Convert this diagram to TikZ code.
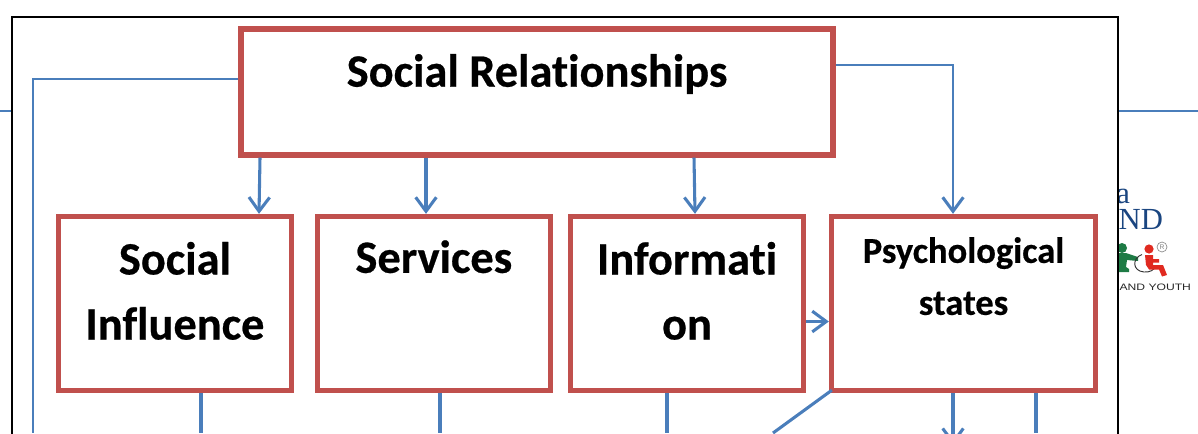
\documentclass[tikz,border=0pt]{standalone}
\usepackage{fontspec}
\setmainfont[Ligatures=NoCommon,BoldFeatures={FakeBold=0.5}]{Carlito}
\newfontfamily\logoserif{Liberation Serif}
\newfontfamily\logosans{Liberation Sans}
\usetikzlibrary{arrows.meta}
\definecolor{boxred}{HTML}{C0504D}
\definecolor{linkblue}{HTML}{4A7EBB}
\definecolor{logoblue}{HTML}{1A4580}
\definecolor{logogreen}{HTML}{1E7B45}
\definecolor{logored}{HTML}{E02A20}
\newcommand{\oneline}[2]{\raisebox{#1}[0pt][0pt]{#2}}
\newcommand{\twolines}[4]{\raisebox{#1}[0pt][0pt]{\vbox{\baselineskip=#2\lineskiplimit=-100pt\hbox to 0pt{\hss #3\hss}\hbox to 0pt{\hss #4\hss}}}}
\tikzset{
  redbox/.style={draw=boxred,line width=4pt,fill=white,rectangle,inner sep=0pt,outer sep=2pt,anchor=center,font=\bfseries\fontsize{34.8pt}{35pt}\selectfont,text=black},
  link/.style={draw=linkblue,line width=2.3pt},
  thin link/.style={draw=linkblue,line width=1.8pt},
  arrowed/.style={-{Straight Barb[length=10.5pt,width=15.5pt,line width=2.3pt]}},
  rule line/.style={draw=linkblue,line width=1.2pt},
  logotext/.style={inner sep=0pt,outer sep=0pt,anchor=base east},
}
\begin{document}
\begin{tikzpicture}[x=0.75pt,y=-0.75pt]
\useasboundingbox (0,0) rectangle (1198,433);
\clip (0,0) rectangle (1198,433);
% page furniture behind the figure
\coordinate (ruleL) at (0,111);
\coordinate (ruleR) at (1198,111);
\draw[rule line] (ruleL) -- (ruleR);
\node[logotext,font=\logoserif\fontsize{23pt}{23pt}\selectfont,text=logoblue] (logoa) at (1130,203) {a};
\node[logotext,font=\logoserif\fontsize{23pt}{23pt}\selectfont,text=logoblue] (logond) at (1163,229) {ND};
\node[logotext,font=\logosans\fontsize{7pt}{7pt}\selectfont,text=black!85] (logoyouth) at (1191,290.5) {\scalebox{1.3}[1]{AND YOUTH}};
% logo figures
\fill[logogreen] (1122,248) circle (5);
\fill[logogreen] (1116,253) -- (1126,253) -- (1138,257) -- (1138,261) -- (1127,260) -- (1126,267) -- (1129,269) -- (1129,272) -- (1116,272) -- cycle;
\draw[black!80,line width=0.7pt] (1142,254.5) .. controls (1132,258) and (1132,271) .. (1144,272) .. controls (1150,272.5) and (1154,270) .. (1156,266);
\fill[logored] (1149,249) circle (4.6);
\fill[logored] (1145,255) -- (1153,255) -- (1153,259) -- (1159,259) -- (1159,262.5) -- (1153,262.5) -- (1153,265) -- (1163,265) -- (1167,275) -- (1162,276.5) -- (1159,269.5) -- (1149,269.5) -- (1146,265) -- cycle;
\draw[black!45,line width=0.5pt] (1162,247) circle (5);
\node[inner sep=0pt,font=\logosans\fontsize{5pt}{5pt}\selectfont,text=black!50] (logoreg) at (1162,247) {R};
% white sheet with black frame
\draw[black,line width=1.6pt,fill=white] (12,17) rectangle (1118,460);
% boxes (positions are centres)
\node[redbox,minimum width=444pt,minimum height=94.5pt] (main) at (537,92) {\oneline{4pt}{Social Relationships}};
\node[redbox,minimum width=174.75pt,minimum height=130.5pt] (infl) at (174.9,303.5) {\twolines{-27pt}{48.75pt}{Social}{Influence}};
\node[redbox,minimum width=174.75pt,minimum height=130.5pt] (serv) at (433.9,303.5) {\oneline{23pt}{Services}};
\node[redbox,minimum width=174.75pt,minimum height=130.5pt] (info) at (687,303.5) {\twolines{-27pt}{48.75pt}{Informati}{on}};
\node[redbox,minimum width=198pt,minimum height=130.5pt,font=\bfseries\fontsize{27.4pt}{28pt}\selectfont] (psych) at (963.5,303.5) {\twolines{-8.5pt}{39pt}{Psychological}{states}};
% free ends of connectors, and x/y positions along box edges
\coordinate (leftEnd) at (33,433);
\coordinate (mainL) at (0,79);
\coordinate (mainR) at (0,65);
\coordinate (a1s) at (260,0); \coordinate (a1e) at (259,0);
\coordinate (a2s) at (426,0); \coordinate (a2e) at (426,0);
\coordinate (a3s) at (694,0); \coordinate (a3e) at (695,0);
\coordinate (a4) at (953,0);
\coordinate (cross) at (0,321.5);
\coordinate (d1) at (201,433);
\coordinate (d2) at (440,433);
\coordinate (d3) at (667,433);
\coordinate (d4) at (953,445);
\coordinate (d5) at (1036,433);
\coordinate (diagEnd) at (773,433);
% connectors
\draw[thin link] (mainL -| main.west) -| (leftEnd);
\draw[thin link,arrowed] (mainR -| main.east) -| (a4 |- psych.north);
\draw[link,arrowed] (a1s |- main.south) -- (a1e |- infl.north);
\draw[link,arrowed] (a2s |- main.south) -- (a2e |- serv.north);
\draw[link,arrowed] (a3s |- main.south) -- (a3e |- info.north);
\draw[link,arrowed] (cross -| info.east) -- (cross -| psych.west);
\draw[link] (d1 |- infl.south) -- (d1);
\draw[link] (d2 |- serv.south) -- (d2);
\draw[link] (d3 |- info.south) -- (d3);
\draw[link,arrowed] (d4 |- psych.south) -- (d4);
\draw[link] (d5 |- psych.south) -- (d5);
\draw[link] ([shift={(3,-3)}]psych.south west) -- (diagEnd);
\end{tikzpicture}
\end{document}
